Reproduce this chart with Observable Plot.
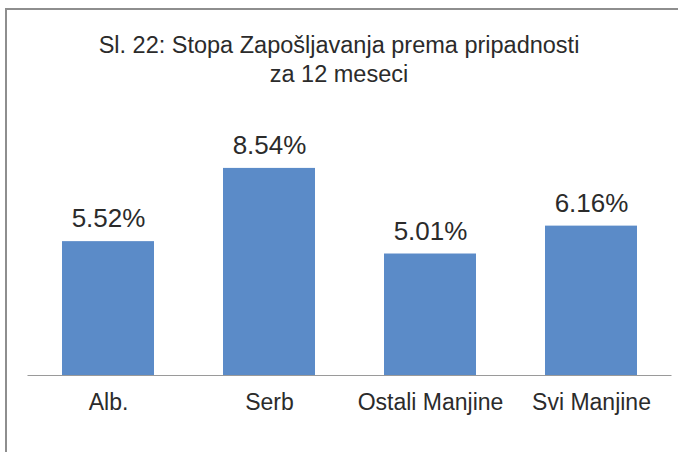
<!DOCTYPE html>
<html>
<head>
<meta charset="utf-8">
<script src="https://cdn.jsdelivr.net/npm/d3@7"></script>
<script src="https://cdn.jsdelivr.net/npm/@observablehq/plot@0.6"></script>
<style>
  html, body { margin: 0; padding: 0; background: #fff; }
  body { width: 678px; height: 452px; overflow: hidden; position: relative; font-family: "Liberation Sans", Arial, sans-serif; }
  #frame { position: absolute; left: 5px; top: 8px; width: 700px; height: 460px; border-top: 2px solid #8e8e8e; border-left: 2px solid #8e8e8e; }
  #title { position: absolute; left: 0; top: 0; width: 678px; height: 100px; text-align: center; color: #2b2b2b; font-size: 23.5px; line-height: 28.5px; padding-top: 31px; box-sizing: border-box; white-space: nowrap; }
  #chart { position: absolute; left: 0; top: 100px; }
</style>
</head>
<body>
<div id="frame"></div>
<div id="title">Sl. 22: Stopa Zapošljavanja prema pripadnosti<br>za 12 meseci</div>
<div id="chart"></div>
<script>
const categories = ["Alb.", "Serb", "Ostali Manjine", "Svi Manjine"];
const values = [5.52, 8.54, 5.01, 6.16];
const valueLabels = ["5.52%", "8.54%", "5.01%", "6.16%"];

const data = categories.map((c, i) => ({category: c, value: values[i], label: valueLabels[i]}));

const chart = Plot.plot({
  width: 678,
  height: 352,
  marginTop: 32.5,
  marginBottom: 77,
  marginLeft: 27.5,
  marginRight: 6.5,
  style: {fontFamily: "Liberation Sans, Arial, sans-serif", color: "#2b2b2b", background: "transparent"},
  x: {domain: categories, paddingInner: 0.43, paddingOuter: 0.215, label: null},
  y: {domain: [0, 10], axis: null},
  marks: [
    Plot.barY(data, {x: "category", y: "value", fill: "#5b8bc8"}),
    Plot.ruleY([0], {stroke: "#9a9a9a", strokeWidth: 1.2}),
    Plot.text(data, {x: "category", y: "value", text: "label", dy: -22.8, fontSize: 26, fill: "#2b2b2b"}),
    Plot.axisX({tickSize: 0, tickPadding: 17.7, fontSize: 23, fill: "#2b2b2b", label: null})
  ]
});
document.getElementById("chart").appendChild(chart);
</script>
</body>
</html>
